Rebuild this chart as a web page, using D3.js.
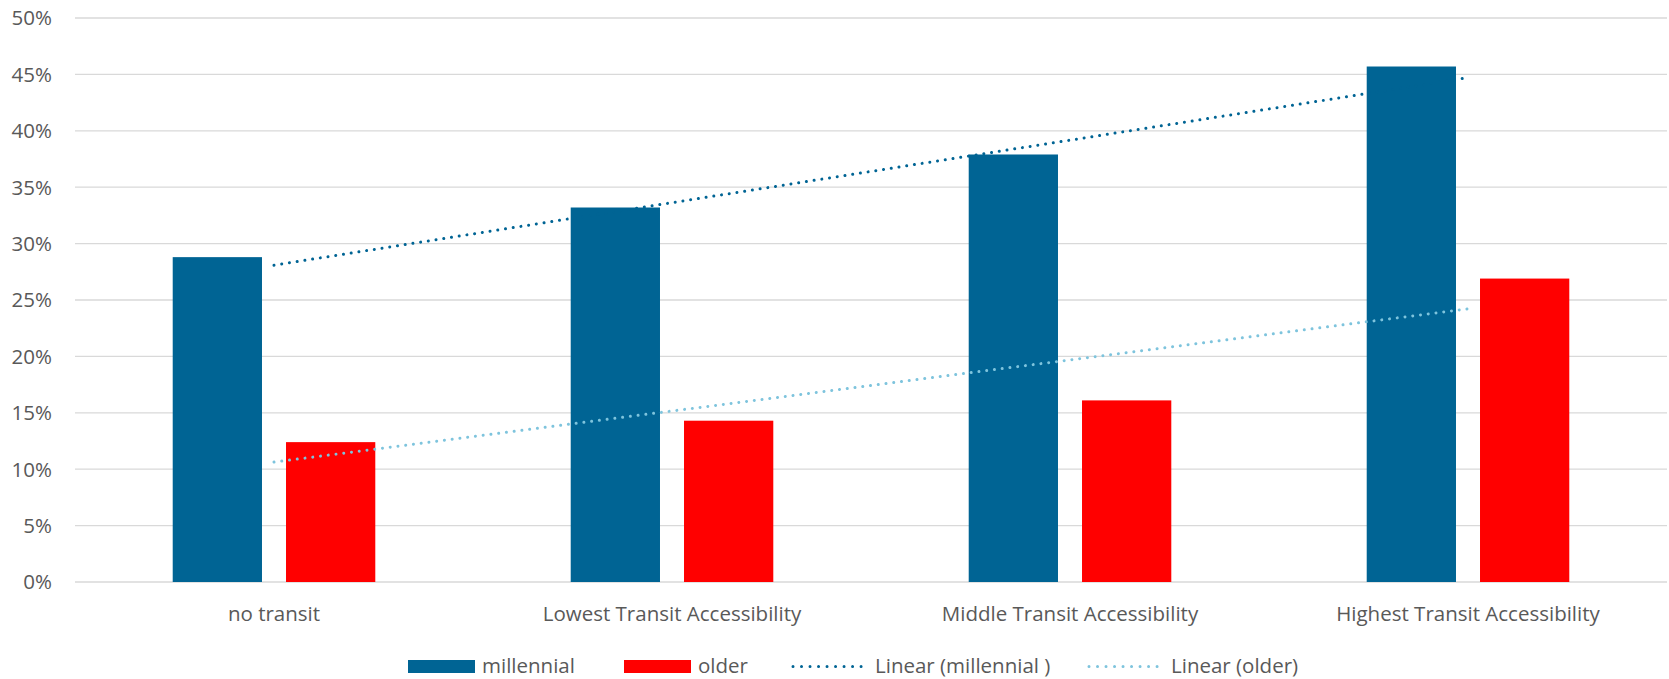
<!DOCTYPE html>
<html>
<head>
<meta charset="utf-8">
<script src="https://cdn.jsdelivr.net/npm/d3@7"></script>
<style>
  html, body { margin: 0; padding: 0; background: #fff; }
  svg { display: block; font-family: "Open Sans", "Noto Sans", sans-serif; }
  .tick-label, .cat-label, .legend-label { fill: #595959; font-size: 20.5px; }
</style>
</head>
<body>
<svg id="chart" width="1669" height="679"></svg>
<script>
// Share of each group by level of transit accessibility
const categories = ["no transit", "Lowest Transit Accessibility", "Middle Transit Accessibility", "Highest Transit Accessibility"];
const seriesNames = ["millennial", "older"];
const millennial = [28.8, 33.2, 37.9, 45.7];
const older = [12.4, 14.3, 16.1, 26.9];
const yTicks = [0, 5, 10, 15, 20, 25, 30, 35, 40, 45, 50];
const legendLabels = ["millennial", "older", "Linear (millennial )", "Linear (older)"];

const colors = { millennial: "#006494", older: "#ff0000" };
const trendColors = { millennial: "#006494", older: "#7ec4dd" };

const svg = d3.select("#chart");
const margin = { left: 75, right: 2, top: 18, bottom: 97 };
const W = 1669, H = 679;
const x0Range = [margin.left, W - margin.right];
const yRange = [H - margin.bottom, margin.top];

const x0 = d3.scaleBand().domain(categories).range(x0Range)
  .paddingInner(0.491).paddingOuter(0.2455);
const x1 = d3.scaleBand().domain(seriesNames).range([0, x0.bandwidth()])
  .paddingInner(0.212).paddingOuter(0);
const y = d3.scaleLinear().domain([0, 50]).range(yRange);

// Horizontal gridlines
svg.append("g").selectAll("line").data(yTicks).join("line")
  .attr("x1", x0Range[0]).attr("x2", x0Range[1])
  .attr("y1", d => y(d)).attr("y2", d => y(d))
  .attr("stroke", "#d9d9d9").attr("stroke-width", 1.3);

// Y tick labels
svg.append("g").selectAll("text").data(yTicks).join("text")
  .attr("class", "tick-label")
  .attr("x", 52).attr("y", d => y(d)).attr("dy", "0.36em")
  .attr("text-anchor", "end")
  .text(d => d + "%");

// Bars
const values = { millennial, older };
const barData = [];
categories.forEach((c, i) => seriesNames.forEach(s => barData.push({ c, s, v: values[s][i] })));
svg.append("g").selectAll("rect").data(barData).join("rect")
  .attr("x", d => x0(d.c) + x1(d.s))
  .attr("y", d => y(d.v))
  .attr("width", x1.bandwidth())
  .attr("height", d => y(0) - y(d.v))
  .attr("fill", d => colors[d.s]);

// Linear trendlines (least-squares fit over category index)
function fit(vals) {
  const n = vals.length, xs = d3.range(n);
  const mx = d3.mean(xs), my = d3.mean(vals);
  const slope = d3.sum(xs, (xi, i) => (xi - mx) * (vals[i] - my)) / d3.sum(xs, xi => (xi - mx) ** 2);
  return xi => my + slope * (xi - mx);
}
const cx = c => x0(c) + x0.bandwidth() / 2;
seriesNames.forEach(s => {
  const f = fit(values[s]);
  const pts = [0, categories.length - 1].map(i => [cx(categories[i]), y(f(i))]);
  svg.append("path")
    .attr("d", d3.line()(pts))
    .attr("fill", "none")
    .attr("stroke", trendColors[s])
    .attr("stroke-width", 3)
    .attr("stroke-linecap", "round")
    .attr("stroke-dasharray", "0.01 7.8");
});

// Category labels
svg.append("g").selectAll("text").data(categories).join("text")
  .attr("class", "cat-label")
  .attr("x", d => cx(d)).attr("y", 621)
  .attr("text-anchor", "middle")
  .text(d => d);

// Legend
const legendItems = [
  { label: legendLabels[0], type: "rect", color: colors.millennial, x: 408 },
  { label: legendLabels[1], type: "rect", color: colors.older, x: 624 },
  { label: legendLabels[2], type: "line", color: trendColors.millennial, x: 791 },
  { label: legendLabels[3], type: "line", color: trendColors.older, x: 1087 }
];
const lg = svg.append("g");
legendItems.forEach(it => {
  if (it.type === "rect") {
    lg.append("rect").attr("x", it.x).attr("y", 660).attr("width", 67).attr("height", 13).attr("fill", it.color);
    lg.append("text").attr("class", "legend-label").attr("x", it.x + 74).attr("y", 673).text(it.label);
  } else {
    lg.append("line").attr("x1", it.x + 2).attr("x2", it.x + 72).attr("y1", 666.5).attr("y2", 666.5)
      .attr("stroke", it.color).attr("stroke-width", 3)
      .attr("stroke-linecap", "round").attr("stroke-dasharray", "0.01 8.5");
    lg.append("text").attr("class", "legend-label").attr("x", it.x + 84).attr("y", 673).text(it.label);
  }
});
</script>
</body>
</html>
